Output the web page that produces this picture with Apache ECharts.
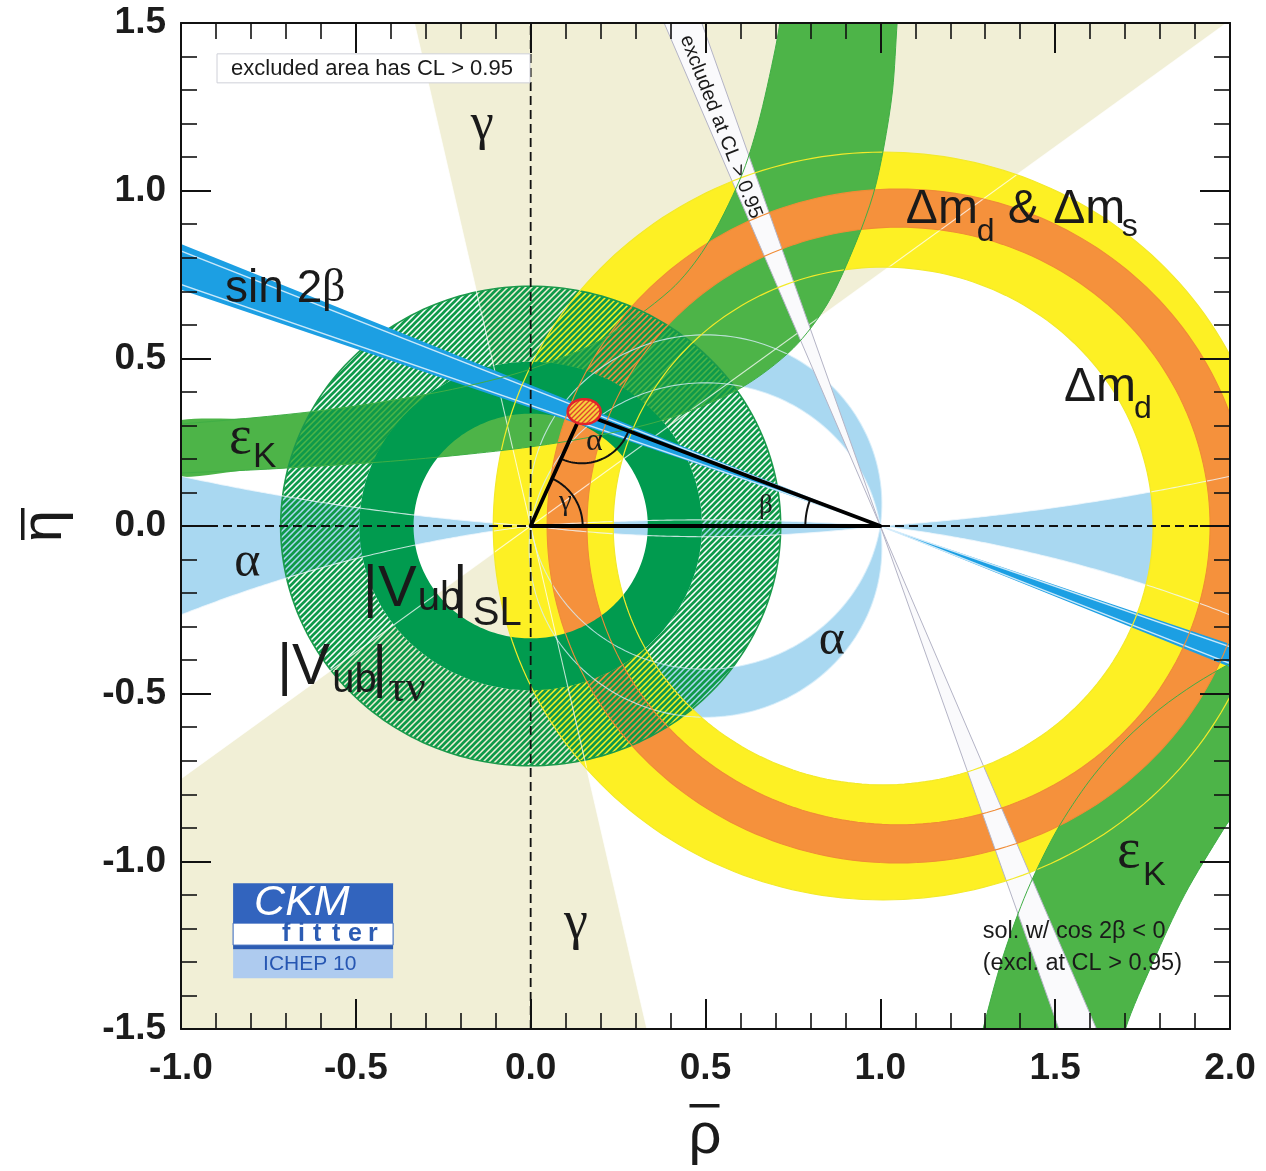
<!DOCTYPE html>
<html>
<head>
<meta charset="utf-8">
<title>CKM unitarity triangle constraints</title>
<script src="https://cdn.jsdelivr.net/npm/echarts@6/dist/echarts.min.js"></script>
<style>
  html, body { margin: 0; padding: 0; background: #ffffff; }
  #chart { width: 1266px; height: 1171px; }
</style>
</head>
<body>
<div id="chart"></div>
<script>
// ---------------------------------------------------------------
// Axis ranges and tick labels of the (rho-bar, eta-bar) plane
// ---------------------------------------------------------------
const xRange = [-1.0, 2.0];
const yRange = [-1.5, 1.5];
const xTickLabels = ['-1.0', '-0.5', '0.0', '0.5', '1.0', '1.5', '2.0'];
const yTickLabels = ['-1.5', '-1.0', '-0.5', '0.0', '0.5', '1.0', '1.5'];

// ---------------------------------------------------------------
// Constraints (95% CL regions)
// ---------------------------------------------------------------
// gamma: allowed angle at (0,0) in degrees; the pi+gamma solution is mirrored
const gammaRange = [37.0, 102.5];
// alpha: solution near 90 degrees and the two flat solutions (above / below the axis)
const alphaRange = [82.5, 99.0];
const alphaFlat = [4.2, 7.3];
// sin 2beta: allowed beta at (1,0) in degrees, with two inner contour lines
const betaRange = [19.4, 22.8];
const betaContours = [19.8, 22.3];
// the cos 2beta < 0 solution (excluded)
const betaAltRange = [67.6, 71.2];
// rings: [centre rho, centre eta, inner radius, outer radius]
const dmdRing = [1.008, 0.0, 0.772, 1.115];     // Delta m_d
const dmsRing = [1.052, 0.0, 0.891, 1.005];     // Delta m_d & Delta m_s
const vubSLRing = [0.0, 0.0, 0.335, 0.490];     // |Vub| semileptonic
const vubTauNuRing = [0.0, 0.0, 0.490, 0.715];  // |Vub| from B -> tau nu
// epsilon_K band edges, upper branch (left to right)
const epsKUpperLow = [[-1.05, 0.156], [-0.8, 0.167], [-0.6, 0.179], [-0.4, 0.193], [-0.2, 0.212],
  [0.0, 0.236], [0.2, 0.271], [0.4, 0.323], [0.6, 0.411], [0.75, 0.529], [0.85, 0.665],
  [0.93, 0.845], [0.98, 0.99], [1.01, 1.13], [1.035, 1.30], [1.048, 1.50], [1.055, 1.60]];
const epsKUpperHigh = [[-1.05, 0.300], [-0.8, 0.322], [-0.6, 0.344], [-0.4, 0.374], [-0.2, 0.413],
  [0.0, 0.468], [0.2, 0.554], [0.4, 0.704], [0.5, 0.832], [0.6, 1.037], [0.65, 1.196],
  [0.7, 1.425], [0.72, 1.55], [0.725, 1.60]];
// epsilon_K band edges, lower branch (bottom to right edge)
const epsKLowerInner = [[1.25, -1.71], [1.27, -1.61], [1.293, -1.503], [1.35, -1.287], [1.42, -1.088],
  [1.505, -0.907], [1.6, -0.757], [1.7, -0.638], [1.8, -0.545], [1.9, -0.471], [2.0, -0.41], [2.06, -0.379]];
const epsKLowerOuter = [[1.66, -1.70], [1.70, -1.503], [1.78, -1.30], [1.87, -1.10], [1.98, -0.907], [2.06, -0.78]];
// global fit: apex of the triangle and its 68% CL region [rho, eta, half-width, half-height]
const apex = [0.146, 0.336];
const apexRegion = [0.153, 0.341, 0.047, 0.037];

const C = {
  gamma: '#f1efd6',
  alpha: '#a9d8f1',
  dmd: '#fdf024',
  dms: '#f5913c',
  epsK: '#4db448',
  vubSL: '#019b4f',
  hatch: '#0f9a4a',
  sin2b: '#1c9fe3',
  excl: '#fafafc',
  exclEdge: '#b4b4c6'
};
const SANS = 'Liberation Sans';
const SERIF = 'Liberation Serif';
const RAD = Math.PI / 180;

const chart = echarts.init(document.getElementById('chart'), null, { renderer: 'canvas' });

// ---------------------------------------------------------------
// Geometry helpers (all points are in data units, mapped with api.coord)
// ---------------------------------------------------------------
function circle(cx, cy, r, n) {
  n = n || 240;
  const pts = [];
  for (let i = 0; i < n; i++) {
    const t = 2 * Math.PI * i / n;
    pts.push([cx + r * Math.cos(t), cy + r * Math.sin(t)]);
  }
  return pts;
}
function pathOf(api, contours) {
  return contours.map(pts => pts.map((p, i) => {
    const q = api.coord(p);
    return (i ? 'L' : 'M') + q[0].toFixed(2) + ' ' + q[1].toFixed(2);
  }).join('') + 'Z').join(' ');
}
function ringEl(api, ring, style) {
  const [cx, cy, r0, r1] = ring;
  return { type: 'path', shape: { pathData: pathOf(api, [circle(cx, cy, r1), circle(cx, cy, r0).reverse()]) }, style };
}
function polyEl(api, pts, style, smooth) {
  return { type: 'polygon', shape: { points: pts.map(p => api.coord(p)), smooth: smooth || 0 }, style };
}
function lineEl(api, pts, style, smooth) {
  return { type: 'polyline', shape: { points: pts.map(p => api.coord(p)), smooth: smooth || 0 },
    style: Object.assign({ fill: null }, style) };
}
// circle of constant alpha through (0,0) and (1,0), from (1,0) over the top to (0,0)
function alphaArc(aDeg, sign) {
  const a = aDeg * RAD, c = 0.5 / Math.tan(a), r = 0.5 / Math.sin(a);
  const phi0 = Math.atan2(-c, 0.5);
  const pts = [];
  for (let i = 0; i <= 120; i++) {
    const t = phi0 + (Math.PI - 2 * phi0) * i / 120;
    pts.push([0.5 + r * Math.cos(t), sign * (c + r * Math.sin(t))]);
  }
  return pts;
}
// distance from the real axis to the small-alpha circle (flat solutions)
function alphaFlatEdge(aDeg, rho) {
  const a = aDeg * RAD, c = 0.5 / Math.tan(a), r = 0.5 / Math.sin(a);
  return Math.abs(c - Math.sqrt(r * r - (rho - 0.5) * (rho - 0.5)));
}
function alphaFlatShape(aUp, aDown) {
  const top = [], bot = [];
  for (let k = 0; k <= 320; k++) {
    const rho = -1.1 + k * 0.01;
    top.push([rho, alphaFlatEdge(aUp, rho)]);
    bot.push([rho, -alphaFlatEdge(aDown, rho)]);
  }
  return top.concat(bot.reverse());
}
// wedge with apex at (x0,0), between two angles measured from the axis direction dir (+1 or -1)
function wedge(x0, a0, a1, dir, up) {
  const R = 4, pts = [[x0, 0]];
  for (let i = 0; i <= 12; i++) {
    const t = (a0 + (a1 - a0) * i / 12) * RAD;
    pts.push([x0 + dir * R * Math.cos(t), up * R * Math.sin(t)]);
  }
  return pts;
}

function makePattern(bg, fg, size, width) {
  const cv = document.createElement('canvas');
  cv.width = size; cv.height = size;
  const g = cv.getContext('2d');
  if (bg) { g.fillStyle = bg; g.fillRect(0, 0, size, size); }
  g.strokeStyle = fg; g.lineWidth = width; g.lineCap = 'square';
  g.beginPath();
  g.moveTo(-size / 2, size * 1.5); g.lineTo(size * 1.5, -size / 2);
  g.moveTo(-size / 2, size / 2); g.lineTo(size / 2, -size / 2);
  g.moveTo(size / 2, size * 1.5); g.lineTo(size * 1.5, size / 2);
  g.stroke();
  return cv;
}
const hatchFill = { image: makePattern(null, C.hatch, 6, 2.7), repeat: 'repeat' };
const apexFill = { image: makePattern('#f7d23c', '#e0452c', 5, 1.4), repeat: 'repeat' };

function layer(name, data, build) {
  return {
    type: 'custom', name, coordinateSystem: 'cartesian2d', clip: true, silent: true,
    animation: false, data, renderItem: (params, api) => build(api, params)
  };
}

const series = [
  // gamma wedges
  layer('gamma', [gammaRange], api => {
    const g0 = api.value(0), g1 = api.value(1);
    return { type: 'group', children: [
      polyEl(api, wedge(0, g0, g1, 1, 1), { fill: C.gamma }),
      polyEl(api, wedge(0, g0, g1, -1, -1), { fill: C.gamma })
    ] };
  }),
  // alpha: lens regions near 90 degrees and flat solutions
  layer('alpha', [[alphaRange[0], alphaRange[1], alphaFlat[0], alphaFlat[1]]], api => {
    const a0 = api.value(0), a1 = api.value(1), f0 = api.value(2), f1 = api.value(3);
    const up = alphaArc(a0, 1).concat(alphaArc(a1, 1).reverse());
    const dn = alphaArc(a0, -1).concat(alphaArc(a1, -1).reverse());
    return { type: 'group', children: [
      polyEl(api, up, { fill: C.alpha }),
      polyEl(api, dn, { fill: C.alpha }),
      polyEl(api, alphaFlatShape(f0, f1), { fill: C.alpha })
    ] };
  }),
  // Delta m_d ring
  layer('dmd', [dmdRing], api => ringEl(api, [api.value(0), api.value(1), api.value(2), api.value(3)], { fill: C.dmd })),
  // epsilon_K bands
  layer('epsK', [apex], api => ({ type: 'group', children: [
    polyEl(api, epsKUpperLow.concat(epsKUpperHigh.slice().reverse()), { fill: C.epsK }, 0.3),
    polyEl(api, epsKLowerInner.concat(epsKLowerOuter.slice().reverse()), { fill: C.epsK }, 0.3)
  ] })),
  // Delta m_d & Delta m_s ring
  layer('dms', [dmsRing], api => ringEl(api, [api.value(0), api.value(1), api.value(2), api.value(3)], { fill: C.dms })),
  // |Vub| tau nu (hatched)
  layer('vubTauNu', [vubTauNuRing], api => {
    const ring = [api.value(0), api.value(1), api.value(2), api.value(3)];
    return { type: 'group', children: [
      ringEl(api, ring, { fill: hatchFill }),
      polyEl(api, circle(ring[0], ring[1], ring[3]), { fill: null, stroke: '#1c9a4c', lineWidth: 1.6 })
    ] };
  }),
  // |Vub| semileptonic (solid)
  layer('vubSL', [vubSLRing], api => ringEl(api, [api.value(0), api.value(1), api.value(2), api.value(3)], { fill: C.vubSL })),
  // thin contour lines of gamma and alpha drawn over the rings
  layer('contours', [[gammaRange[0], gammaRange[1]]], api => {
    const g0 = api.value(0), g1 = api.value(1), kids = [];
    [g0, g1, g0 + 180, g1 + 180].forEach(g => kids.push(lineEl(api, [[0, 0], [4 * Math.cos(g * RAD), 4 * Math.sin(g * RAD)]],
      { stroke: 'rgba(255,255,255,0.75)', lineWidth: 1.1 })));
    [alphaArc(alphaRange[0], 1), alphaArc(alphaRange[1], 1), alphaArc(alphaRange[0], -1), alphaArc(alphaRange[1], -1)]
      .forEach(a => kids.push(lineEl(api, a, { stroke: 'rgba(215,238,250,0.8)', lineWidth: 1.1 })));
    kids.push(polyEl(api, alphaFlatShape(alphaFlat[0], alphaFlat[1]), { fill: null, stroke: 'rgba(240,248,252,0.8)', lineWidth: 1.1 }));
    return { type: 'group', children: kids };
  }),
  // sin 2beta band
  layer('sin2b', [betaRange], api => {
    const b0 = api.value(0), b1 = api.value(1), kids = [];
    kids.push(polyEl(api, wedge(1, b0, b1, -1, 1), { fill: C.sin2b }));
    kids.push(polyEl(api, wedge(1, b0, b1, 1, -1), { fill: C.sin2b }));
    betaContours.forEach(b => {
      const t = b * RAD;
      kids.push(lineEl(api, [[1 - 3 * Math.cos(t), 3 * Math.sin(t)], [1 + 3 * Math.cos(t), -3 * Math.sin(t)]],
        { stroke: 'rgba(220,240,252,0.9)', lineWidth: 1.4 }));
    });
    return { type: 'group', children: kids };
  }),
  // cos 2beta < 0 solution (excluded)
  layer('betaAlt', [betaAltRange], api => {
    const b0 = api.value(0), b1 = api.value(1);
    const st = { fill: C.excl, stroke: C.exclEdge, lineWidth: 1 };
    return { type: 'group', children: [polyEl(api, wedge(1, b0, b1, -1, 1), st), polyEl(api, wedge(1, b0, b1, 1, -1), st)] };
  }),
  // outlines of the mixing rings and of epsilon_K on top
  layer('outlines', [dmdRing], api => {
    const kids = [];
    [dmdRing[2], dmdRing[3]].forEach(r => kids.push(polyEl(api, circle(dmdRing[0], dmdRing[1], r), { fill: null, stroke: '#f3ea2a', lineWidth: 1.2 })));
    [dmsRing[2], dmsRing[3]].forEach(r => kids.push(polyEl(api, circle(dmsRing[0], dmsRing[1], r), { fill: null, stroke: '#f08c36', lineWidth: 1.1 })));
    [epsKUpperLow, epsKUpperHigh, epsKLowerInner, epsKLowerOuter].forEach(e => kids.push(lineEl(api, e, { stroke: '#3fae45', lineWidth: 1 }, 0.3)));
    return { type: 'group', children: kids };
  }),
  // dashed zero lines
  layer('zeroLines', [[0, 0]], api => ({ type: 'group', children: [
    lineEl(api, [[xRange[0], api.value(1)], [xRange[1], api.value(1)]], { stroke: '#111', lineWidth: 1.8, lineDash: [9, 5] }),
    lineEl(api, [[api.value(0), yRange[0]], [api.value(0), yRange[1]]], { stroke: '#111', lineWidth: 1.8, lineDash: [9, 5] })
  ] })),
  // unitarity triangle with angle arcs
  layer('triangle', [apex], api => {
    const P = api.coord([api.value(0), api.value(1)]), O = api.coord([0, 0]), B = api.coord([1, 0]);
    const ang = (a, b) => Math.atan2(b[1] - a[1], b[0] - a[0]);
    const arc = (c, r, a0, a1) => {
      let d = a1 - a0;
      while (d > Math.PI) d -= 2 * Math.PI;
      while (d < -Math.PI) d += 2 * Math.PI;
      const pts = [];
      for (let i = 0; i <= 40; i++) { const t = a0 + d * i / 40; pts.push([c[0] + r * Math.cos(t), c[1] + r * Math.sin(t)]); }
      return pts;
    };
    const arcStyle = { fill: null, stroke: '#111', lineWidth: 2 };
    return { type: 'group', children: [
      { type: 'polyline', shape: { points: arc(O, 52, ang(O, B), ang(O, P)) }, style: arcStyle },
      { type: 'polyline', shape: { points: arc(P, 50, ang(P, O), ang(P, B)) }, style: arcStyle },
      { type: 'polyline', shape: { points: arc(B, 75, ang(B, O), ang(B, P)) }, style: arcStyle },
      { type: 'polygon', shape: { points: [O, P, B] }, style: { fill: null, stroke: '#000', lineWidth: 3.8, lineJoin: 'round' } }
    ] };
  }),
  // fit region at the apex
  layer('apexRegion', [apexRegion], api => {
    const cx = api.value(0), cy = api.value(1), a = api.value(2), b = api.value(3), pts = [];
    for (let i = 0; i < 60; i++) { const t = 2 * Math.PI * i / 60; pts.push([cx + a * Math.cos(t), cy + b * Math.sin(t)]); }
    return polyEl(api, pts, { fill: apexFill, stroke: '#e2232b', lineWidth: 2.6 });
  })
];

// ---------------------------------------------------------------
// Axes: labelled bottom/left, tick-only top/right
// ---------------------------------------------------------------
function axisBase(range, labels, pos, showLabel) {
  return {
    type: 'value', min: range[0], max: range[1], interval: 0.5, position: pos, z: 10,
    axisLine: { show: true, onZero: false, lineStyle: { color: '#111', width: 2 } },
    axisTick: { show: true, inside: true, length: 30, lineStyle: { color: '#111', width: 2 } },
    minorTick: { show: true, splitNumber: 5, length: 16, lineStyle: { color: '#111', width: 1.6 } },
    splitLine: { show: false },
    axisLabel: {
      show: showLabel, color: '#1c1c1c', fontFamily: SANS, fontWeight: 'bold', fontSize: 37,
      margin: pos === 'bottom' ? 21 : 15,
      formatter: v => labels[Math.round((v - range[0]) / 0.5)]
    }
  };
}

chart.setOption({
  backgroundColor: '#ffffff',
  animation: false,
  grid: { left: 181, right: 36, top: 23, bottom: 142 },
  xAxis: [axisBase(xRange, xTickLabels, 'bottom', true), axisBase(xRange, xTickLabels, 'top', false)],
  yAxis: [axisBase(yRange, yTickLabels, 'left', true), axisBase(yRange, yTickLabels, 'right', false)],
  series
});

// ---------------------------------------------------------------
// Text annotations, anchored to data coordinates
// parts: [dx, baseline dy (px), text, font size, family, options]
// ---------------------------------------------------------------
const labelDefs = [
  { at: [-0.874, 0.659], parts: [[0, 0, 'sin 2', 46, SANS], [97, 0, 'β', 46, SERIF]] },
  { at: [-0.863, 0.203], parts: [[0, 0, 'ε', 54, SERIF], [24, 12, 'K', 35, SANS]] },
  { at: [1.677, -1.032], parts: [[0, 0, 'ε', 56, SERIF], [26, 15, 'K', 34, SANS]] },
  { at: [-0.848, -0.161], parts: [[0, 0, 'α', 50, SERIF]] },
  { at: [0.824, -0.394], parts: [[0, 0, 'α', 50, SERIF]] },
  { at: [-0.171, 1.142], parts: [[0, 0, 'γ', 52, SERIF]] },
  { at: [0.095, -1.244], parts: [[0, 0, 'γ', 54, SERIF]] },
  { at: [-0.480, -0.251], parts: [[0, 0, '|V', 58, SANS], [55, 3, 'ub', 40, SANS], [90, 0, '|', 58, SANS], [110, 18, 'SL', 40, SANS]] },
  { at: [-0.725, -0.483], parts: [[0, 0, '|V', 57, SANS], [55, 7, 'ub', 40, SANS], [95, 2, '|', 57, SANS], [111, 17, 'τν', 44, SERIF]] },
  { at: [1.073, 0.892], parts: [[0, 0, 'Δm', 48, SANS], [71, 16, 'd', 32, SANS], [102, 0, '& Δm', 48, SANS], [216, 11, 's', 32, SANS]] },
  { at: [1.525, 0.361], parts: [[0, 0, 'Δm', 48, SANS], [70, 15, 'd', 32, SANS]] },
  { at: [0.158, 0.218], parts: [[0, 0, 'α', 32, SERIF]] },
  { at: [0.081, 0.039], parts: [[0, 0, 'γ', 29, SERIF]] },
  { at: [0.653, 0.033], parts: [[0, 0, 'β', 27, SERIF]] },
  { at: [1.293, -1.235], parts: [[0, 0, 'sol. w/ cos 2β < 0', 23.5, SANS], [0, 32, '(excl. at CL > 0.95)', 23.5, SANS]] }
];
const boxText = 'excluded area has CL > 0.95';
const boxAt = [-0.897, 1.408];
const bandText = 'excluded at CL > 0.95';
const bandAt = [0.544, 1.190];
const logoAt = [-0.851, -1.065];

function txt(x, baseline, text, size, family, opt) {
  opt = opt || {};
  const font = (opt.italic ? 'italic ' : '') + (opt.bold ? 'bold ' : '') + size + 'px "' + family + '"';
  return {
    type: 'text', x: x, y: baseline - 0.35 * size, z: 50, silent: true,
    style: { text, font, fill: opt.color || '#1a1a1a', textAlign: 'left', textVerticalAlign: 'middle', align: 'left', verticalAlign: 'middle' }
  };
}

function placeLabels() {
  const P = p => chart.convertToPixel('grid', p);
  const els = [];
  labelDefs.forEach(def => {
    const a = P(def.at);
    def.parts.forEach(q => els.push(txt(a[0] + q[0], a[1] + q[1], q[2], q[3], q[4], q[5])));
  });

  // boxed note
  const b = P(boxAt);
  els.push({ type: 'rect', x: b[0], y: b[1], shape: { width: 313, height: 29 }, z: 45, silent: true,
    style: { fill: '#ffffff', stroke: '#cfd0d8', lineWidth: 1 } });
  els.push(txt(b[0] + 14, b[1] + 23, boxText, 22, SANS));

  // note along the excluded cos 2beta < 0 band
  const c = P(bandAt);
  els.push({ type: 'text', x: c[0], y: c[1], rotation: -68.6 * RAD, z: 50, silent: true,
    style: { text: bandText, font: '20px "' + SANS + '"', fill: '#1a1a1a', textAlign: 'center', textVerticalAlign: 'middle', align: 'center', verticalAlign: 'middle' } });

  // CKMfitter logo
  const L = P(logoAt);
  const blue = '#3264be', dark = '#2c5cb3';
  els.push({ type: 'rect', x: L[0], y: L[1], shape: { width: 160, height: 40 }, z: 45, silent: true, style: { fill: blue } });
  els.push(txt(L[0] + 21, L[1] + 35, 'CKM', 43, SANS, { italic: true, color: '#ffffff' }));
  els.push({ type: 'rect', x: L[0], y: L[1] + 40, shape: { width: 160, height: 22 }, z: 45, silent: true, style: { fill: '#ffffff', stroke: blue, lineWidth: 1 } });
  [['f', 49], ['i', 65], ['t', 80], ['t', 99], ['e', 115], ['r', 135]].forEach(l =>
    els.push(txt(L[0] + l[1], L[1] + 60, l[0], 25, SANS, { bold: true, color: dark })));
  els.push({ type: 'rect', x: L[0], y: L[1] + 62, shape: { width: 160, height: 4 }, z: 46, silent: true, style: { fill: dark } });
  els.push({ type: 'rect', x: L[0], y: L[1] + 66, shape: { width: 160, height: 29 }, z: 45, silent: true, style: { fill: '#aecbef' } });
  els.push(txt(L[0] + 30, L[1] + 88, 'ICHEP 10', 21, SANS, { color: '#2656b2' }));

  // axis titles with overbars
  const xt = P([0.5, yRange[0]]);
  els.push(txt(xt[0] - 17, xt[1] + 128, 'ρ', 58, SANS));
  els.push({ type: 'rect', x: xt[0] - 16, y: xt[1] + 75, shape: { width: 30, height: 3.5 }, z: 50, silent: true, style: { fill: '#1a1a1a' } });
  const yt = P([xRange[0], 0.0]);
  els.push({ type: 'text', x: yt[0] - 136, y: yt[1], rotation: Math.PI / 2, z: 50, silent: true,
    style: { text: 'η', font: '58px "' + SANS + '"', fill: '#1a1a1a', textAlign: 'center', textVerticalAlign: 'middle', align: 'center', verticalAlign: 'middle' } });
  els.push({ type: 'rect', x: yt[0] - 160, y: yt[1] - 18, shape: { width: 3.5, height: 32 }, z: 50, silent: true, style: { fill: '#1a1a1a' } });

  chart.setOption({ graphic: { elements: els } });
}
placeLabels();
</script>
</body>
</html>
